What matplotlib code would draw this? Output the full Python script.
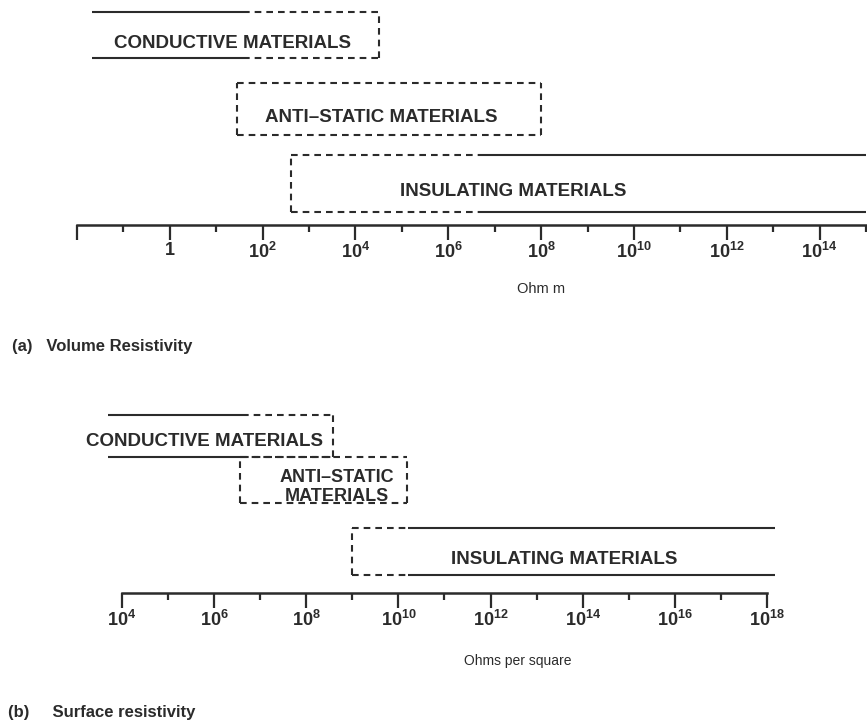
import numpy as np
import matplotlib
matplotlib.use('Agg')
import matplotlib.pyplot as plt
from matplotlib.ticker import FixedLocator, NullFormatter

plt.rcParams['font.family'] = ['Liberation Sans', 'DejaVu Sans']
plt.rcParams['mathtext.fontset'] = 'custom'
plt.rcParams['mathtext.rm'] = 'Liberation Sans:bold'
plt.rcParams['mathtext.it'] = 'Liberation Sans:bold'
plt.rcParams['mathtext.bf'] = 'Liberation Sans:bold'

# ---- data (exponents of ten) ----
categories = ['CONDUCTIVE MATERIALS', 'ANTI\u2013STATIC MATERIALS', 'INSULATING MATERIALS']

# (a) volume resistivity, Ohm m
vol_low = [-1.68, 1.44, 2.62]
vol_high = [4.5, 8.0, 15.0]
vol_solid_low = [-1.68, None, 6.67]
vol_solid_high = [1.57, None, 15.0]
vol_axis = (-2, 15)
vol_major = [-2, 0, 2, 4, 6, 8, 10, 12, 14]
vol_labels = ['', '$1$', '$10^{2}$', '$10^{4}$', '$10^{6}$', '$10^{8}$',
              '$10^{10}$', '$10^{12}$', '$10^{14}$']
vol_minor = [-1, 1, 3, 5, 7, 9, 11, 13, 15]

# (b) surface resistivity, Ohms per square
surf_low = [3.7, 6.56, 9.0]
surf_high = [8.58, 10.18, 18.17]
surf_solid_low = [3.7, None, 10.2]
surf_solid_high = [6.6, None, 18.17]
surf_axis = (4, 18)
surf_major = [4, 6, 8, 10, 12, 14, 16, 18]
surf_labels = ['$10^{4}$', '$10^{6}$', '$10^{8}$', '$10^{10}$', '$10^{12}$',
               '$10^{14}$', '$10^{16}$', '$10^{18}$']
surf_minor = [5, 7, 9, 11, 13, 15, 17]

W, H = 867, 726
INK = '#2b2b2b'
DASH = (0, (3.2, 2.4))
LW = 1.5

fig = plt.figure(figsize=(W / 100, H / 100), dpi=100)


def px_axes(x0, x1, y_top, y_axis):
    return fig.add_axes([x0 / W, 1 - y_axis / H, (x1 - x0) / W, (y_axis - y_top) / H])


def seg(ax, x0, x1, y, ls):
    ax.plot([10 ** x0, 10 ** x1], [y, y], color=INK, lw=LW, ls=ls,
            clip_on=False, solid_capstyle='butt')


def draw_box(ax, lo, hi, slo, shi, yb, yt, left_side, right_side):
    for y in (yb, yt):
        if slo is None:
            seg(ax, lo, hi, y, DASH)
        else:
            if slo > lo:
                seg(ax, lo, slo, y, DASH)
            seg(ax, slo, shi, y, '-')
            if shi < hi:
                seg(ax, shi, hi, y, DASH)
    if left_side:
        ax.plot([10 ** lo] * 2, [yb, yt], color=INK, lw=LW, ls=DASH, clip_on=False)
    if right_side:
        ax.plot([10 ** hi] * 2, [yb, yt], color=INK, lw=LW, ls=DASH, clip_on=False)


def setup_axis(ax, xlim, bounds, major, labels, minor, height):
    ax.set_xscale('log')
    ax.set_xlim(10.0 ** xlim[0], 10.0 ** xlim[1])
    ax.set_ylim(0, height)
    for s in ('left', 'right', 'top'):
        ax.spines[s].set_visible(False)
    ax.spines['bottom'].set_bounds(10.0 ** bounds[0], 10.0 ** bounds[1])
    ax.spines['bottom'].set_color(INK)
    ax.spines['bottom'].set_linewidth(1.8)
    ax.set_yticks([])
    ax.xaxis.set_major_locator(FixedLocator([10.0 ** e for e in major]))
    ax.xaxis.set_minor_locator(FixedLocator([10.0 ** e for e in minor]))
    ax.xaxis.set_minor_formatter(NullFormatter())
    ax.set_xticklabels(labels)
    ax.tick_params(axis='x', which='major', direction='out', length=11, width=1.6,
                   color=INK, labelsize=13, labelcolor=INK, pad=1)
    ax.tick_params(axis='x', which='minor', direction='out', length=5, width=1.6,
                   color=INK)
    ax.patch.set_alpha(0)


# ---- (a) volume resistivity ----
ax1 = px_axes(77, 866, 5, 225)
setup_axis(ax1, vol_axis, vol_axis, vol_major, vol_labels, vol_minor, 220)
rows1 = [(167, 213), (90, 142), (13, 70)]
sides1 = [(False, True), (True, True), (True, False)]
for i in range(3):
    yb, yt = rows1[i]
    draw_box(ax1, vol_low[i], vol_high[i], vol_solid_low[i], vol_solid_high[i],
             yb, yt, *sides1[i])
text_x1 = [1.34, 4.55, 7.4]
for i in range(3):
    yb, yt = rows1[i]
    ax1.text(10 ** text_x1[i], (yb + yt) / 2 - 8, categories[i], ha='center', va='center',
             fontsize=13.5, fontweight='bold', color=INK)
ax1.text(10 ** 8, -64, 'Ohm m', ha='center', va='center', fontsize=10.5, color=INK)

# ---- (b) surface resistivity ----
ax2 = px_axes(99, 790, 405, 593)
setup_axis(ax2, (3.5, 18.5), surf_axis, surf_major, surf_labels, surf_minor, 188)
rows2 = [(136, 178), (90, 136), (18, 65)]
sides2 = [(False, True), (True, True), (True, False)]
for i in range(3):
    yb, yt = rows2[i]
    draw_box(ax2, surf_low[i], surf_high[i], surf_solid_low[i], surf_solid_high[i],
             yb, yt, *sides2[i])
ax2.text(10 ** 5.78, 151, categories[0], ha='center', va='center',
         fontsize=13.5, fontweight='bold', color=INK)
ax2.text(10 ** 8.67, 106, 'ANTI\u2013STATIC\nMATERIALS', ha='center', va='center',
         fontsize=13, fontweight='bold', color=INK, linespacing=1.1)
ax2.text(10 ** 13.6, 33, categories[2], ha='center', va='center',
         fontsize=13.5, fontweight='bold', color=INK)
ax2.text(10 ** 12.6, -68, 'Ohms per square', ha='center', va='center',
         fontsize=10, color=INK)

fig.text(12 / W, 1 - 346 / H, '(a)   Volume Resistivity', ha='left', va='center',
         fontsize=12, fontweight='bold', color=INK)
fig.text(8 / W, 1 - 712 / H, '(b)     Surface resistivity', ha='left', va='center',
         fontsize=12, fontweight='bold', color=INK)

fig.savefig('out.png', dpi=100)
